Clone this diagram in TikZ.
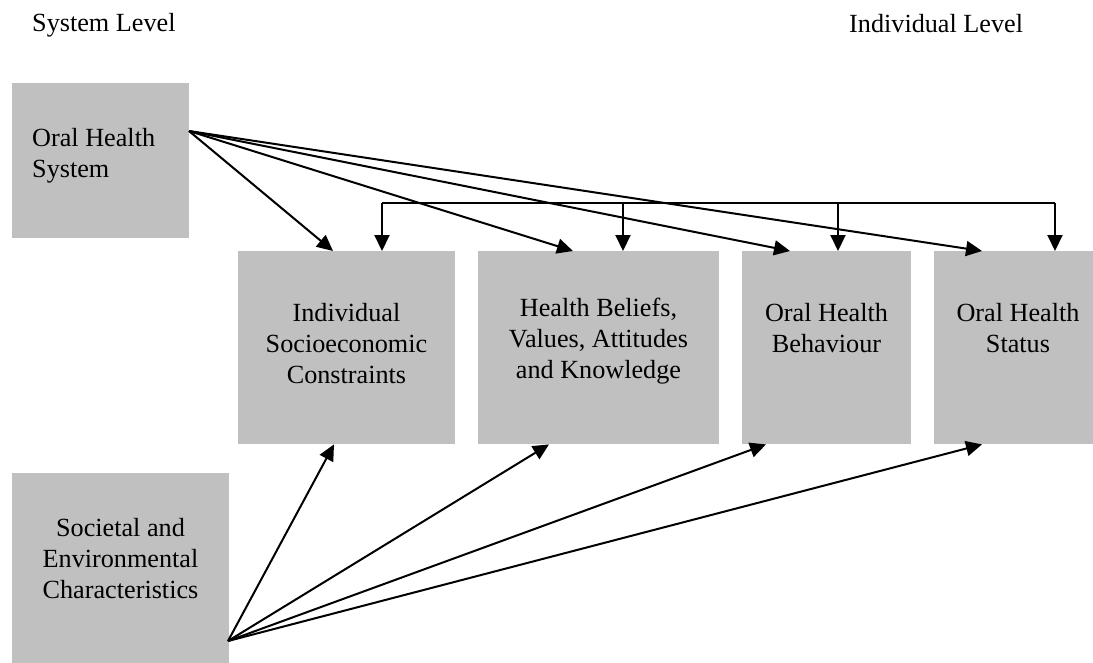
\documentclass[tikz,border=0pt]{standalone}
\usepackage{fontspec}
\setmainfont{Liberation Serif}
\usetikzlibrary{positioning,calc,arrows.meta}

\definecolor{boxgray}{RGB}{192,192,192}

\begin{document}
\begin{tikzpicture}[
    x=1pt, y=-1pt,
    font=\fontsize{26.2}{31}\selectfont,
    panel/.style={fill=boxgray, inner sep=0, anchor=north west},
    caption/.style={inner sep=0, anchor=north, align=center},
    link/.style={draw, line width=2pt},
    arr/.style={link, -{Triangle[length=16pt, width=15pt]}}
]
\useasboundingbox (0,0) rectangle (1093,662);

% Level headings
\node[inner sep=0, anchor=base west] (syslevel) at (32,31) {System Level};
\node[inner sep=0, anchor=base west] (indlevel) at (849,32) {Individual Level};

% System level boxes
\node[panel, minimum width=177pt, minimum height=155pt] (ohsys) at (12,83) {};
\node[panel, minimum width=217pt, minimum height=210pt] (sec) at (12,473) {};

% Individual level boxes
\node[panel, minimum width=217pt, minimum height=193pt] (isc) at (238,251) {};
\node[panel, minimum width=241pt, minimum height=193pt] (hbv) at (478,251) {};
\node[panel, minimum width=169pt, minimum height=193pt] (ohb) at (742,251) {};
\node[panel, minimum width=168pt, minimum height=193pt] (ohst) at (934,251) {};

% Box texts
\node[caption, anchor=north west, align=left] (ohsys-txt) at (32,128) {Oral Health\\System};
\node[caption] (sec-txt) at (120.5,518) {Societal and\\Environmental\\Characteristics};
\node[caption] (isc-txt) at (346.5,303) {Individual\\Socioeconomic\\Constraints};
\node[caption] (hbv-txt) at (598.5,298) {Health Beliefs,\\Values, Attitudes\\and Knowledge};
\node[caption] (ohb-txt) at (826.5,303) {Oral Health\\Behaviour};
\node[caption] (ohst-txt) at (1018,303) {Oral Health\\Status};

% Arrows from the oral health system
\coordinate (ohsys-out) at (189,131);
\draw[arr] (ohsys-out) -- ($(isc.north west)+(95,0)$);
\draw[arr] (ohsys-out) -- ($(hbv.north west)+(95,0)$);
\draw[arr] (ohsys-out) -- ($(ohb.north west)+(48,0)$);
\draw[arr] (ohsys-out) -- ($(ohst.north west)+(48,0)$);

% Arrows from societal and environmental characteristics
\coordinate (sec-out) at (228,641);
\draw[arr] (sec-out) -- ($(isc.south west)+(96,0)$);
\draw[arr] (sec-out) -- ($(hbv.south west)+(71,0)$);
\draw[arr] (sec-out) -- ($(ohb.south west)+(24,0)$);
\draw[arr] (sec-out) -- ($(ohst.south west)+(48,0)$);

% Bus line across the individual level
\coordinate (bus-isc) at ($(isc.north west)+(144,-48)$);
\coordinate (bus-hbv) at ($(hbv.north west)+(145,-48)$);
\coordinate (bus-ohb) at ($(ohb.north west)+(96,-48)$);
\coordinate (bus-ohst) at ($(ohst.north west)+(121,-48)$);
\draw[link] (bus-isc) -- (bus-ohst);
\foreach \b in {isc,hbv,ohb,ohst}
    \draw[arr] (bus-\b) -- (bus-\b |- \b.north);

\end{tikzpicture}
\end{document}
